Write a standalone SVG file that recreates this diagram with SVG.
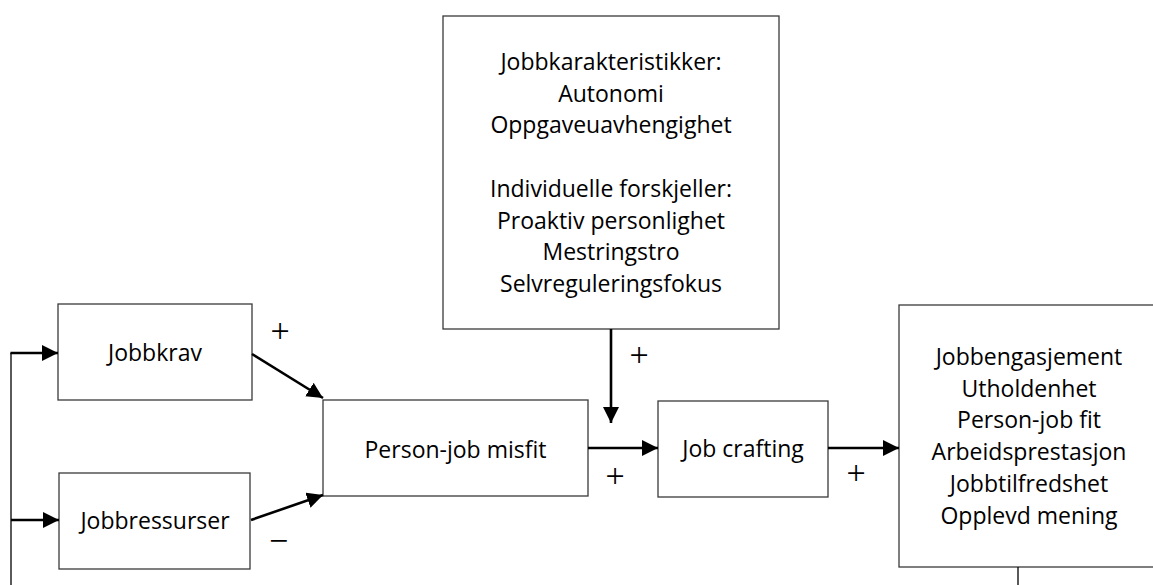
<svg xmlns="http://www.w3.org/2000/svg" width="1153" height="585" viewBox="0 0 1153 585">
<style>
.box{fill:#fff;stroke:#3a3a3a;stroke-width:1.3}
.t{font-family:"Open Sans","Liberation Sans",sans-serif;font-size:23px;fill:#000;text-anchor:middle}
.c{stroke:#000;stroke-width:2.6;fill:none}
.thin{stroke:#000;stroke-width:1.3;fill:none}
.s{font-family:"Liberation Serif",serif;font-size:34px;fill:#000;text-anchor:middle}
</style>
<defs>
<marker id="ah" markerUnits="userSpaceOnUse" markerWidth="17" markerHeight="17" refX="16" refY="8" orient="auto">
<path d="M0,0 L16,8 L0,16 z" fill="#000"/>
</marker>
</defs>
<rect width="1153" height="585" fill="#fff"/>
<g id="node-moderators">
<rect class="box" x="443" y="16" width="336" height="313"/>
<text class="t" x="611" y="70">Jobbkarakteristikker:</text>
<text class="t" x="611" y="101.7">Autonomi</text>
<text class="t" x="611" y="133.4">Oppgaveuavhengighet</text>
<text class="t" x="611" y="196.8">Individuelle forskjeller:</text>
<text class="t" x="611" y="228.5">Proaktiv personlighet</text>
<text class="t" x="611" y="260.2">Mestringstro</text>
<text class="t" x="611" y="291.9">Selvreguleringsfokus</text>
</g>
<g id="node-jobbkrav">
<rect class="box" x="58" y="304" width="194" height="96"/>
<text class="t" x="155" y="361">Jobbkrav</text>
</g>
<g id="node-jobbressurser">
<rect class="box" x="59" y="473" width="191" height="96"/>
<text class="t" x="155" y="529">Jobbressurser</text>
</g>
<g id="node-misfit">
<rect class="box" x="323" y="400" width="265" height="96"/>
<text class="t" x="455.5" y="458">Person-job misfit</text>
</g>
<g id="node-crafting">
<rect class="box" x="658" y="401" width="170" height="96"/>
<text class="t" x="743" y="457">Job crafting</text>
</g>
<g id="node-outcomes">
<rect class="box" x="899" y="305" width="260" height="262"/>
<text class="t" x="1029" y="365">Jobbengasjement</text>
<text class="t" x="1029" y="396.7">Utholdenhet</text>
<text class="t" x="1029" y="428.4">Person-job fit</text>
<text class="t" x="1029" y="460.1">Arbeidsprestasjon</text>
<text class="t" x="1029" y="491.8">Jobbtilfredshet</text>
<text class="t" x="1029" y="523.5">Opplevd mening</text>
</g>
<g id="connectors">
<line class="c" x1="252" y1="354" x2="323" y2="398" marker-end="url(#ah)"/>
<line class="c" x1="251" y1="520" x2="323" y2="495" marker-end="url(#ah)"/>
<line class="c" x1="611" y1="329" x2="611" y2="423" marker-end="url(#ah)"/>
<line class="c" x1="588" y1="448" x2="658" y2="448" marker-end="url(#ah)"/>
<line class="c" x1="828" y1="448" x2="899" y2="448" marker-end="url(#ah)"/>
<line class="thin" x1="1018" y1="567" x2="1018" y2="585"/>
<line class="thin" x1="11" y1="585" x2="11" y2="353"/>
<line class="c" x1="10.4" y1="353" x2="58" y2="353" marker-end="url(#ah)"/>
<line class="c" x1="11" y1="520" x2="59" y2="520" marker-end="url(#ah)"/>
</g>
<g id="labels">
<text class="s" x="280" y="342">+</text>
<text class="s" x="278.5" y="552">−</text>
<text class="s" x="639" y="366">+</text>
<text class="s" x="615" y="487">+</text>
<text class="s" x="856" y="484">+</text>
</g>
</svg>
